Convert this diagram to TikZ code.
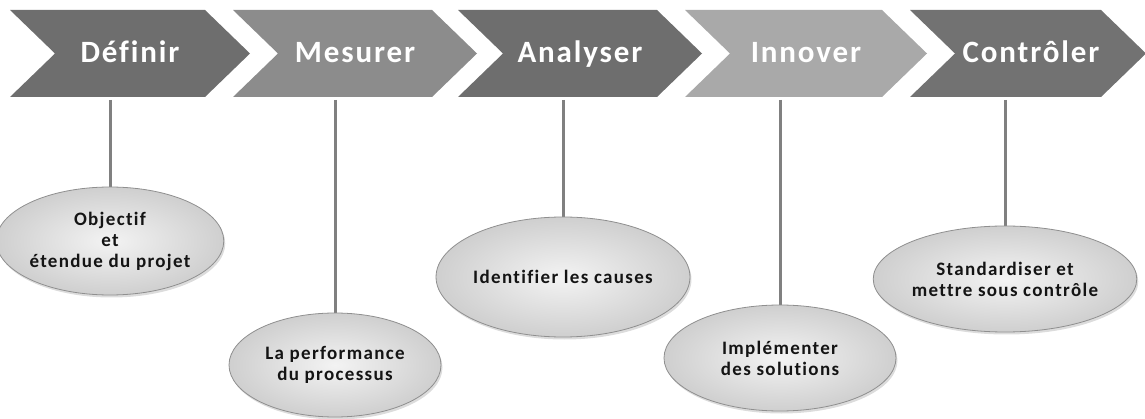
\documentclass[tikz,border=0pt]{standalone}
\usepackage{fontspec}
\setmainfont{Carlito}
\newfontfamily\headfont[LetterSpace=6,Ligatures=NoCommon]{Carlito}
\newfontfamily\bodyfont[LetterSpace=7,Ligatures=NoCommon]{Carlito}
\usetikzlibrary{shapes.geometric,shadows,backgrounds}

\definecolor{chevdark}{HTML}{6E6E6E}
\definecolor{chevmid}{HTML}{8C8C8C}
\definecolor{chevlight}{HTML}{A9A9A9}
\definecolor{stem}{HTML}{808080}
\definecolor{bubbleedge}{HTML}{8F8F8F}
\definecolor{bubblein}{HTML}{F3F3F3}
\definecolor{bubbleout}{HTML}{CFCFCF}
\definecolor{bubbletext}{HTML}{141414}

% one arrow-shaped step of the process: left edge, right tip, colour
\newcommand\chevronband[3]{%
  \fill[#3] (#1,10) -- (#2-45,10) -- (#2,53.5) -- (#2-45,97) -- (#1,97) -- (#1+45,53.5) -- cycle;}

\begin{document}
\begin{tikzpicture}[x=1pt,y=-1pt,
  steplabel/.style={text=white,anchor=base,font=\headfont\bfseries\fontsize{31}{35}\selectfont,inner sep=0pt},
  bubble/.style={ellipse,draw=bubbleedge,line width=0.8pt,inner sep=0pt,
    inner color=bubblein,outer color=bubbleout,
    drop shadow={opacity=0.28,shadow xshift=1.5pt,shadow yshift=-2.5pt},
    text=bubbletext,align=center,font=\bodyfont\bfseries\fontsize{19}{21}\selectfont},
  stemline/.style={draw=stem,line width=3pt}]
\useasboundingbox (0,0) rectangle (1145,419);

% the five process steps
\chevronband{10}{250}{chevdark}
\chevronband{233}{477}{chevmid}
\chevronband{458}{702}{chevdark}
\chevronband{685}{927}{chevlight}
\chevronband{910}{1146}{chevdark!97!white}

\node[steplabel] (c1) at (130,63) {Définir};
\node[steplabel] (c2) at (355,63) {Mesurer};
\node[steplabel] (c3) at (580,63) {Analyser};
\node[steplabel] (c4) at (806,63) {Innover};
\node[steplabel] (c5) at (1031,63) {Contrôler};

% where each stem leaves its step
\coordinate (t1) at (110,100);
\coordinate (t2) at (335,100);
\coordinate (t3) at (563,100);
\coordinate (t4) at (780,100);
\coordinate (t5) at (1005,100);

% descriptions hanging below the steps
\node[bubble,minimum width=202pt,minimum height=108pt] (e1) at (110,241) {Objectif\\et\\étendue du projet};
\node[bubble,minimum width=212pt,minimum height=104pt] (e2) at (335,365) {La performance\\du processus};
\node[bubble,minimum width=220pt,minimum height=120pt] (e3) at (563,277) {Identifier les causes};
\node[bubble,minimum width=232pt,minimum height=106pt] (e4) at (780,358) {Implémenter\\des solutions};
\node[bubble,minimum width=234pt,minimum height=106pt] (e5) at (1005,279) {Standardiser et\\mettre sous contrôle};

% stems joining each step to its description
\begin{scope}[on background layer]
\foreach \i in {1,...,5} {\path[stemline] (t\i) -- (e\i.north);}
\end{scope}
\end{tikzpicture}
\end{document}
